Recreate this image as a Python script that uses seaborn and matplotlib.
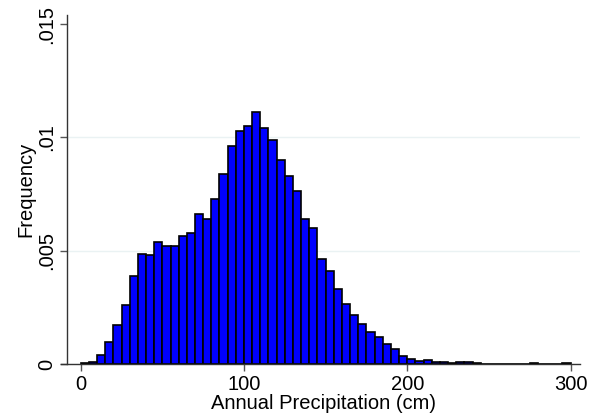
import pandas as pd
import matplotlib
matplotlib.use("Agg")
import matplotlib.pyplot as plt
import seaborn as sns

# bin edges: 5 cm wide bins from 0 to 300
bin_width = 5
bin_edges = list(range(0, 305, bin_width))
bin_centers = [e + bin_width / 2 for e in bin_edges[:-1]]

# density per bin
density = [
    0.00004, 0.0001, 0.0004, 0.00097, 0.0017, 0.0026, 0.0039, 0.00485, 0.0048, 0.0054,
    0.0052, 0.0052, 0.00566, 0.0058, 0.0066, 0.0064, 0.0073, 0.0084, 0.0096, 0.0103,
    0.0105, 0.0111, 0.0104, 0.0099, 0.0090, 0.0083, 0.00765, 0.0064, 0.0060, 0.00463,
    0.0041, 0.0033, 0.00265, 0.00216, 0.00176, 0.00143, 0.00118, 0.00088, 0.00068, 0.00036,
    0.00024, 0.00012, 0.00018, 0.00009, 0.00009, 0.00004, 0.0001, 0.0001, 0.00004, 0.00001,
    0.00001, 0.00002, 0.00002, 0.00001, 0.00001, 0.00003, 0.00001, 0.00002, 0.00001, 0.00003,
]

x_ticks = [0, 100, 200, 300]
y_ticks = [0, 0.005, 0.01, 0.015]
y_tick_labels = ["0", ".005", ".01", ".015"]

df = pd.DataFrame({"precip": bin_centers, "density": density})

sns.set_style("white")
plt.rcParams["font.family"] = ["Liberation Sans", "DejaVu Sans"]

fig = plt.figure(figsize=(5.96, 4.17), dpi=100)
ax = fig.add_axes([67 / 596, 53 / 417, 513 / 596, 349 / 417])

sns.histplot(data=df, x="precip", weights="density", bins=bin_edges, stat="count",
             color="#0000ff", edgecolor="black", linewidth=1.2, alpha=1, ax=ax)

ax.set_xlim(-8.4, 305.8)
ax.set_ylim(0, 0.0154)
ax.set_xticks(x_ticks)
ax.set_xticklabels([str(t) for t in x_ticks])
ax.set_yticks(y_ticks)
ax.set_yticklabels(y_tick_labels, rotation=90, va="center")
ax.grid(axis="y", color="#eaf2f3", linewidth=1)
ax.set_axisbelow(True)
# Stata draws no gridline at the top tick
ax.yaxis.get_gridlines()[-1].set_visible(False)

for side in ["top", "right"]:
    ax.spines[side].set_visible(False)
for side in ["left", "bottom"]:
    ax.spines[side].set_color("#333333")
    ax.spines[side].set_linewidth(1)
ax.spines["bottom"].set_bounds(-12, 305.8)

ax.tick_params(axis="both", direction="out", length=5, width=1, color="#555555",
               labelsize=14.5, labelcolor="black", pad=3, bottom=True, left=True)
ax.set_xlabel("Annual Precipitation (cm)", fontsize=14.5, color="black", labelpad=0)
ax.set_ylabel("Frequency", fontsize=14.5, color="black", labelpad=1)

fig.savefig("out.png", dpi=100)
